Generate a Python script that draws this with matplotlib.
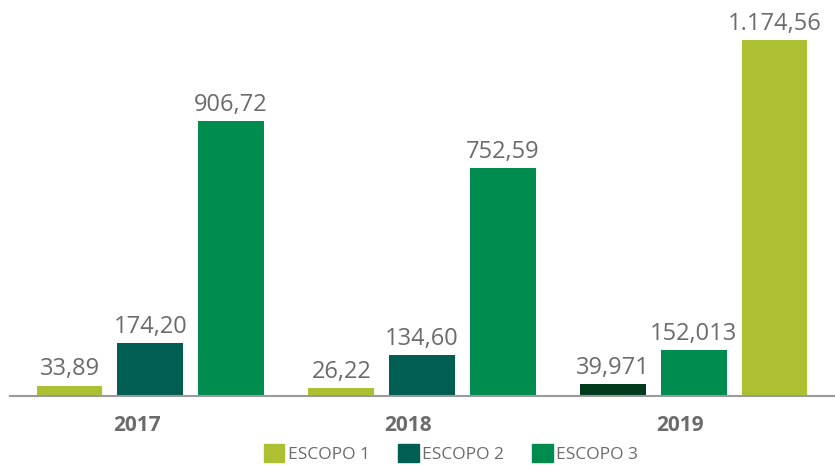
import matplotlib.pyplot as plt
import numpy as np

plt.rcParams['font.family'] = ['Open Sans', 'DejaVu Sans']

years = ['2017', '2018', '2019']
bar_values = [
    [33.89, 174.20, 906.72],
    [26.22, 134.60, 752.59],
    [39.971, 152.013, 1174.56],
]
bar_labels = [
    ['33,89', '174,20', '906,72'],
    ['26,22', '134,60', '752,59'],
    ['39,971', '152,013', '1.174,56'],
]
bar_colors = [
    ['#ADC031', '#005E52', '#008B4F'],
    ['#ADC031', '#005E52', '#008B4F'],
    ['#003B1E', '#008B4F', '#ADC031'],
]
legend_names = ['ESCOPO 1', 'ESCOPO 2', 'ESCOPO 3']
legend_colors = ['#ADC031', '#005E52', '#008B4F']

fig = plt.figure(figsize=(8.35, 4.65), dpi=100)
ax = fig.add_axes([10 / 835, 69 / 465, 825 / 835, 396 / 465])

width = 0.242
step = 0.297
for g, (vals, labs, cols) in enumerate(zip(bar_values, bar_labels, bar_colors)):
    for i, (v, lab, c) in enumerate(zip(vals, labs, cols)):
        x = g + (i - 1) * step
        ax.bar(x, v, width=width, color=c)
        ax.text(x, v + 14, lab, ha='center', va='bottom', fontsize=17, color='#6b6b6b')

ax.set_xlim(-0.516, 2.52)
ax.set_ylim(0, 1306.5)
ax.set_xticks(np.arange(len(years)) - 0.05)
ax.set_xticklabels(years, fontsize=15, fontweight='bold', color='#6b6b6b')
ax.tick_params(axis='x', length=0, pad=14)
ax.set_yticks([])
for s in ['top', 'right', 'left']:
    ax.spines[s].set_visible(False)
ax.spines['bottom'].set_color('#9a9a9a')
ax.spines['bottom'].set_linewidth(1.5)

handles = [plt.Rectangle((0, 0), 1, 1, color=c) for c in legend_colors]
fig.legend(handles, legend_names, loc='center', bbox_to_anchor=(0.54, 0.024),
           ncol=3, frameon=False, fontsize=12.5, labelcolor='#6b6b6b',
           handlelength=1.2, handleheight=1.2, handletextpad=0.2, columnspacing=1.6)

fig.savefig('out.png', dpi=100)
